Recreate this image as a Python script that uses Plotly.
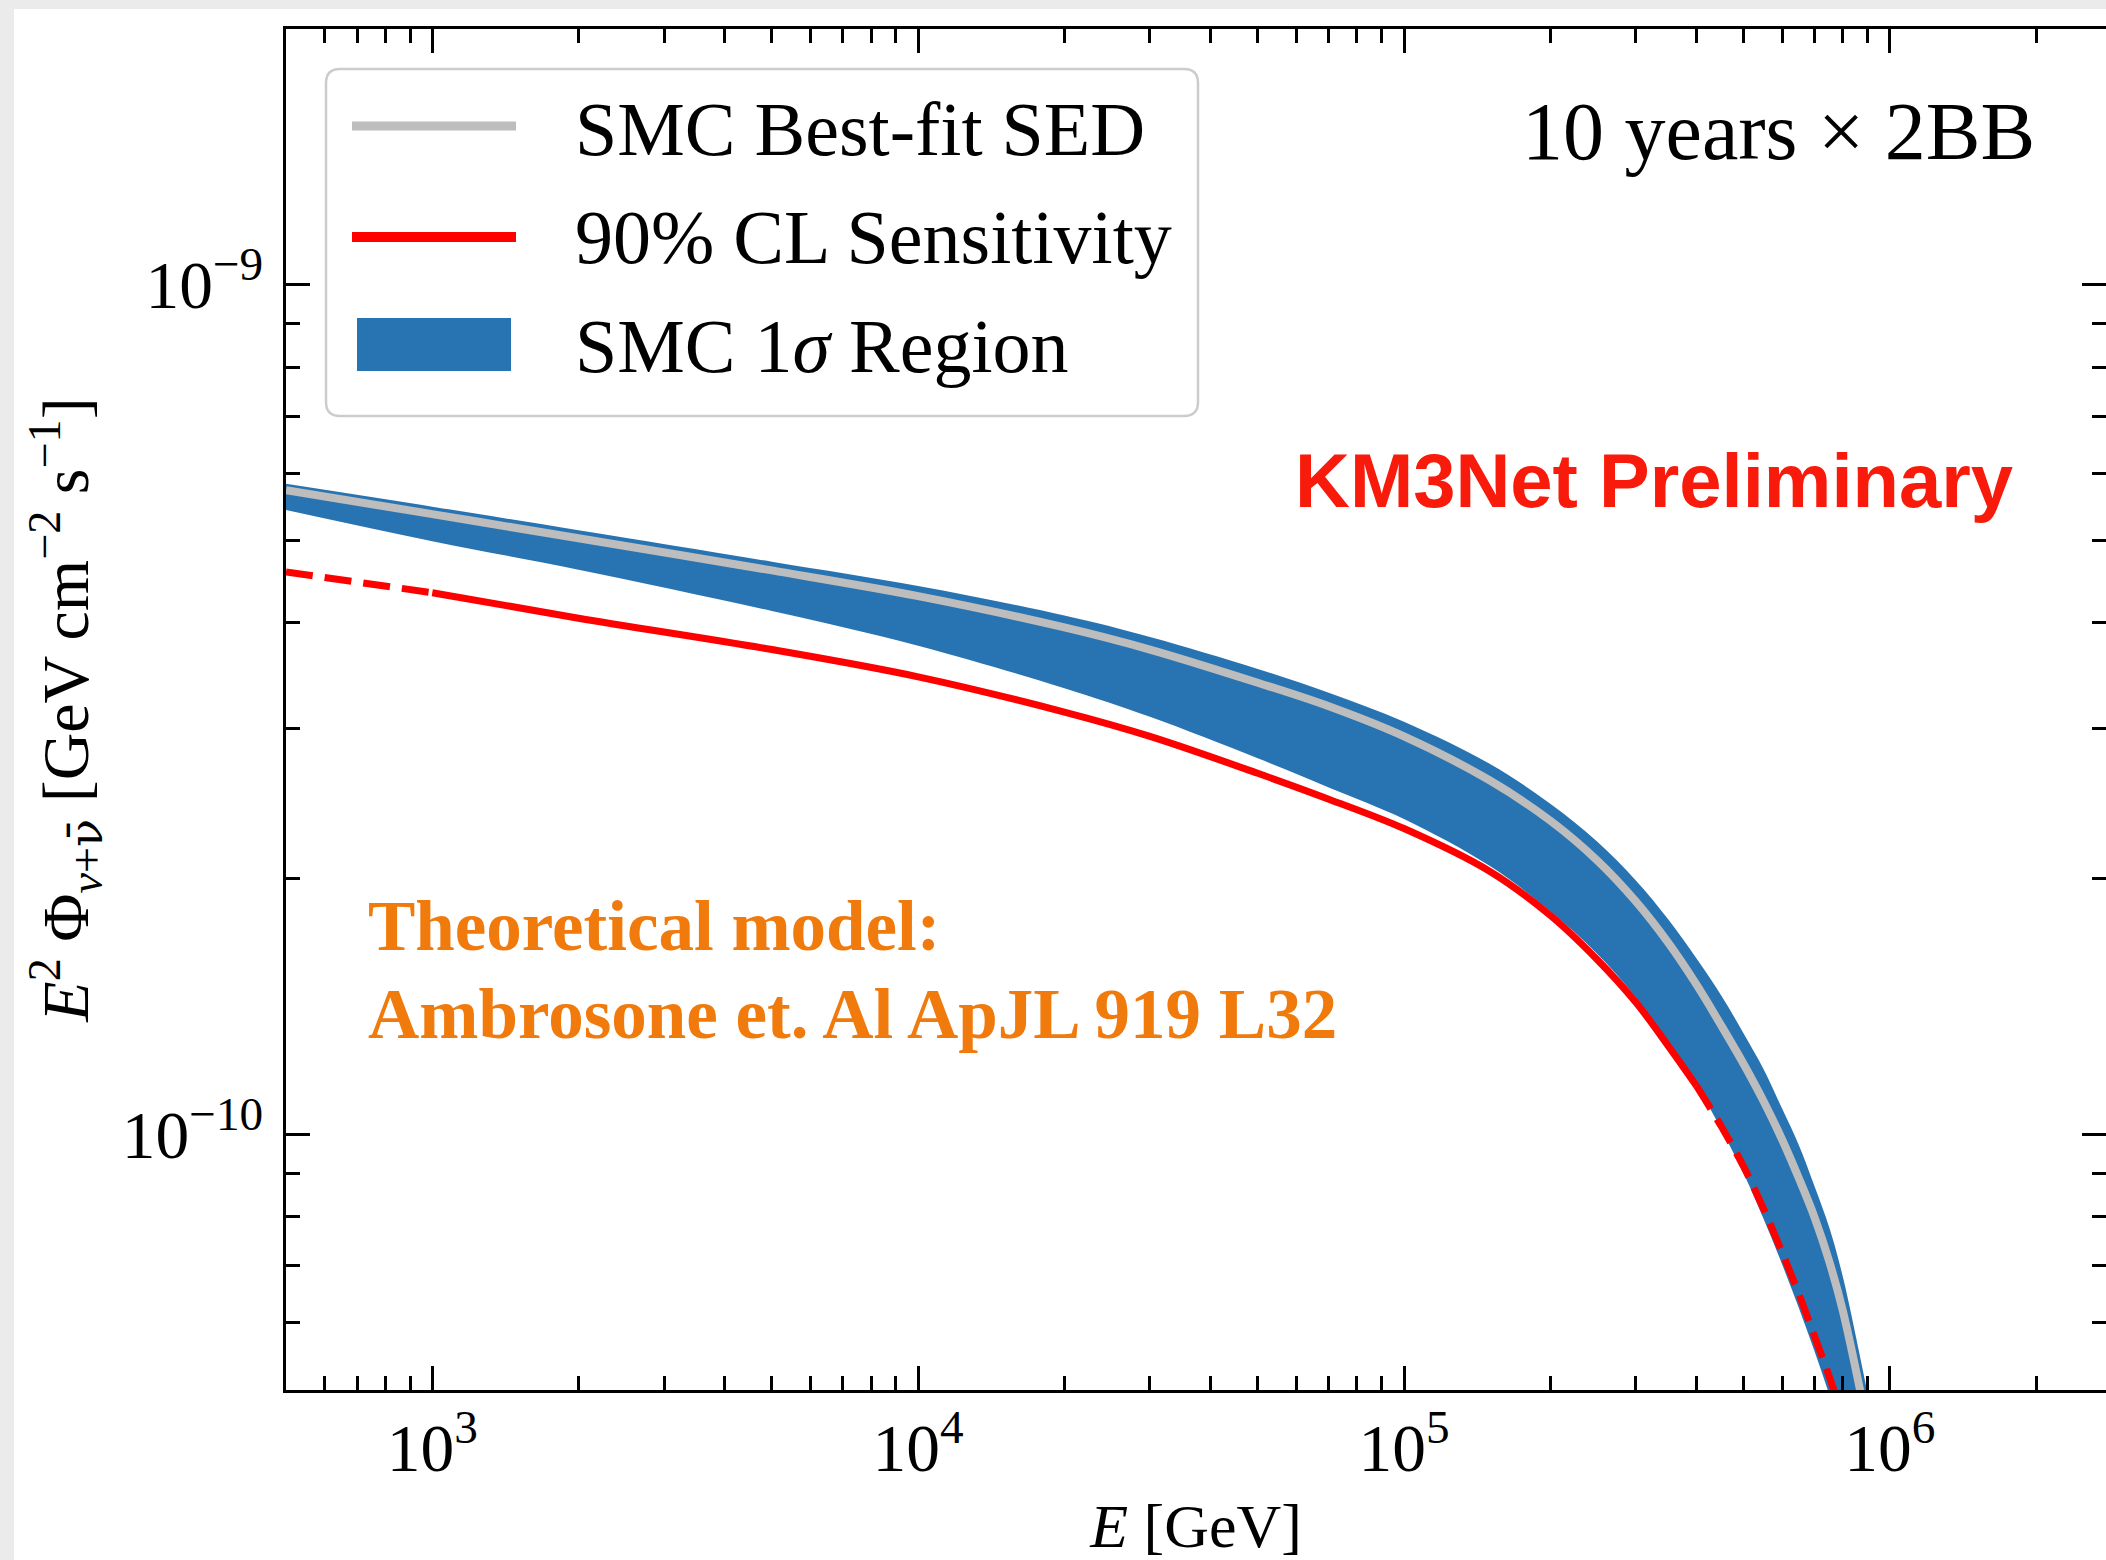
import numpy as np
import plotly.graph_objects as go

# ---------------- data ----------------
# SMC best-fit SED (grey line)
best_fit_E = [500, 1e3, 2e3, 5e3, 1e4, 2e4, 3e4, 5e4, 7e4, 1e5, 1.5e5, 2e5, 2.5e5, 3e5, 3.5e5,
              4e5, 4.5e5, 5e5, 5.5e5, 6e5, 6.5e5, 7e5, 7.5e5, 8e5, 9e5]
best_fit_F = [5.73e-10, 5.37e-10, 5.03e-10, 4.61e-10, 4.30e-10, 3.95e-10, 3.72e-10, 3.40e-10, 3.19e-10,
              2.94e-10, 2.61e-10, 2.34e-10, 2.10e-10, 1.88e-10, 1.68e-10, 1.50e-10, 1.342e-10, 1.21e-10,
              1.093e-10, 9.86e-11, 8.87e-11, 7.98e-11, 7.09e-11, 6.20e-11, 4.52e-11]

# SMC 1 sigma region, upper edge
band_hi_E = [500, 1e3, 2e3, 5e3, 1e4, 2e4, 3e4, 5e4, 7e4, 1e5, 1.5e5, 2e5, 2.5e5, 3e5, 3.5e5,
             4e5, 4.5e5, 5e5, 5.5e5, 6e5, 6.5e5, 7e5, 7.5e5, 8e5, 9e5, 9.5e5]
band_hi_F = [5.83e-10, 5.48e-10, 5.14e-10, 4.72e-10, 4.42e-10, 4.08e-10, 3.85e-10, 3.53e-10, 3.31e-10,
             3.06e-10, 2.73e-10, 2.45e-10, 2.21e-10, 1.99e-10, 1.79e-10, 1.61e-10, 1.456e-10, 1.314e-10,
             1.192e-10, 1.072e-10, 9.70e-11, 8.68e-11, 7.77e-11, 6.80e-11, 4.96e-11, 4.29e-11]

# SMC 1 sigma region, lower edge
band_lo_E = [500, 1e3, 2e3, 5e3, 1e4, 2e4, 3e4, 5e4, 7e4, 1e5, 1.5e5, 2e5, 2.5e5, 3e5, 3.5e5,
             4e5, 4.5e5, 5e5, 5.5e5, 6e5, 6.5e5, 7e5, 7.5e5, 8e5]
band_lo_F = [5.43e-10, 4.99e-10, 4.62e-10, 4.13e-10, 3.76e-10, 3.35e-10, 3.10e-10, 2.77e-10, 2.56e-10,
             2.35e-10, 2.07e-10, 1.83e-10, 1.63e-10, 1.45e-10, 1.285e-10, 1.144e-10, 1.013e-10, 8.99e-11,
             7.94e-11, 7.03e-11, 6.24e-11, 5.55e-11, 4.94e-11, 4.37e-11]

# 90% CL sensitivity (red); solid between sens_solid_lo and sens_solid_hi, dashed outside
sens_E = [500, 1e3, 2e3, 5e3, 1e4, 2e4, 3e4, 5e4, 7e4, 1e5, 1.5e5, 2e5, 2.5e5, 3e5, 3.5e5,
          4e5, 4.5e5, 5e5, 5.5e5, 6e5, 6.5e5, 7e5, 7.5e5, 8e5, 8.5e5]
sens_F = [4.59e-10, 4.34e-10, 4.05e-10, 3.72e-10, 3.455e-10, 3.14e-10, 2.94e-10, 2.66e-10, 2.48e-10,
          2.29e-10, 2.04e-10, 1.81e-10, 1.605e-10, 1.43e-10, 1.27e-10, 1.14e-10, 1.021e-10, 9.16e-11,
          8.16e-11, 7.26e-11, 6.48e-11, 5.78e-11, 5.19e-11, 4.64e-11, 4.20e-11]
sens_solid_lo, sens_solid_hi = 1e3, 4e5

x_range_E = [500, 2.785e6]
y_range_F = [5e-11, 2e-9]

legend_labels = ["SMC Best-fit SED", "90% CL Sensitivity", "SMC 1<i>σ</i> Region"]

# ---------------- styles ----------------
BLUE = "#2874b2"
GRAY = "#bdbdbd"
RED = "#ff0000"
SERIF = "Liberation Serif, Times New Roman, serif"
SANS = "Liberation Sans, Arial, sans-serif"
SPL = dict(shape="spline", smoothing=1.0)

W, H = 2106, 1560
L, R, T, B = 286, 2106, 29, 1390  # plot area in pixels
PW, PH = R - L, B - T


def px(x):
    return (x - L) / PW


def py(y):
    return (B - y) / PH


fig = go.Figure()

# 1-sigma band
fig.add_trace(go.Scatter(x=band_lo_E, y=band_lo_F, mode="lines", line=dict(width=0, **SPL),
                         showlegend=False, hoverinfo="skip", name="SMC 1σ lower"))
fig.add_trace(go.Scatter(x=band_hi_E, y=band_hi_F, mode="lines", line=dict(width=0, **SPL),
                         fill="tonexty", fillcolor=BLUE, name="SMC 1σ Region"))

# best fit
fig.add_trace(go.Scatter(x=best_fit_E, y=best_fit_F, mode="lines",
                         line=dict(color=GRAY, width=8, **SPL), name="SMC Best-fit SED"))

# sensitivity: dashed outside the solid range
lo_idx = [i for i, e in enumerate(sens_E) if e <= sens_solid_lo]
mid_idx = [i for i, e in enumerate(sens_E) if sens_solid_lo <= e <= sens_solid_hi]
hi_idx = [i for i, e in enumerate(sens_E) if e >= sens_solid_hi]
for idx, dash in [(lo_idx, "27px,12px"), (mid_idx, "solid"), (hi_idx, "27px,12px")]:
    fig.add_trace(go.Scatter(x=[sens_E[i] for i in idx], y=[sens_F[i] for i in idx], mode="lines",
                             line=dict(color=RED, width=7, dash=dash, **SPL),
                             name="90% CL Sensitivity"))

axis_common = dict(
    type="log", showgrid=False, zeroline=False,
    ticks="inside", ticklen=24, tickwidth=3, tickcolor="black",
    showline=True, linecolor="black", linewidth=3, mirror="ticks",
    dtick=1, exponentformat="power", showexponent="all",
    tickfont=dict(family=SERIF, size=54, color="black"),
    minor=dict(ticks="inside", ticklen=14, tickwidth=2.5, tickcolor="black", dtick="D1", showgrid=False),
)

nubar = "<span style=\"font-family:'DejaVu Serif'\">ν\u0304</span>"
fig.update_xaxes(**axis_common, range=[np.log10(x_range_E[0]), np.log10(x_range_E[1])],
                 ticklabelstandoff=0,
                 title=dict(text="<i>E</i> [GeV]", font=dict(family=SERIF, size=62, color="black"), standoff=40))
fig.update_yaxes(**axis_common, range=[np.log10(y_range_F[0]), np.log10(y_range_F[1])],
                 ticklabelstandoff=9,
                 title=dict(text="<i>E</i><sup>2</sup> Φ<sub><i>ν</i>+" + nubar + "</sub>"
                                 " [GeV cm<sup>−2</sup> s<sup>−1</sup>]",
                            font=dict(family=SERIF, size=66, color="black"), standoff=12))

shapes = []
# page background (white sheet over light-gray page)
shapes.append(dict(type="rect", xref="paper", yref="paper", x0=px(14), x1=px(2140), y0=py(1600), y1=py(9),
                   fillcolor="white", line=dict(width=0), layer="below"))


# legend box with rounded corners
def rounded_rect(x0, y0, x1, y1, r):
    pts = [f"M{px(x0 + r)},{py(y0)}", f"L{px(x1 - r)},{py(y0)}", f"Q{px(x1)},{py(y0)} {px(x1)},{py(y0 + r)}",
           f"L{px(x1)},{py(y1 - r)}", f"Q{px(x1)},{py(y1)} {px(x1 - r)},{py(y1)}",
           f"L{px(x0 + r)},{py(y1)}", f"Q{px(x0)},{py(y1)} {px(x0)},{py(y1 - r)}",
           f"L{px(x0)},{py(y0 + r)}", f"Q{px(x0)},{py(y0)} {px(x0 + r)},{py(y0)}", "Z"]
    return " ".join(pts)


shapes.append(dict(type="path", xref="paper", yref="paper", path=rounded_rect(326, 69, 1198, 416, 14),
                   fillcolor="white", line=dict(color="#cccccc", width=2.5)))
shapes.append(dict(type="line", xref="paper", yref="paper", x0=px(352), x1=px(516), y0=py(126), y1=py(126),
                   line=dict(color=GRAY, width=9)))
shapes.append(dict(type="line", xref="paper", yref="paper", x0=px(352), x1=px(516), y0=py(237), y1=py(237),
                   line=dict(color=RED, width=10)))
shapes.append(dict(type="rect", xref="paper", yref="paper", x0=px(357), x1=px(511), y0=py(371), y1=py(318),
                   fillcolor=BLUE, line=dict(width=0)))

annotations = []
for lab, yc in zip(legend_labels, [129, 237, 346]):
    annotations.append(dict(text=lab, xref="paper", yref="paper", x=px(573), y=py(yc), xanchor="left",
                            yanchor="middle", showarrow=False, font=dict(family=SERIF, size=76, color="black")))

annotations.append(dict(text="10 years × 2BB", xref="paper", yref="paper", x=px(2037), y=py(131),
                        xanchor="right", yanchor="middle", showarrow=False,
                        font=dict(family=SERIF, size=82, color="black")))
annotations.append(dict(text="<b>KM3Net Preliminary</b>", xref="paper", yref="paper", x=px(2015), y=py(481),
                        xanchor="right", yanchor="middle", showarrow=False,
                        font=dict(family=SANS, size=76, color="#f81a0a")))
annotations.append(dict(text="<b>Theoretical model:</b>", xref="paper", yref="paper", x=px(366), y=py(926),
                        xanchor="left", yanchor="middle", showarrow=False,
                        font=dict(family=SERIF, size=71, color="#f07a0c")))
annotations.append(dict(text="<b>Ambrosone et. Al ApJL 919 L32</b>", xref="paper", yref="paper", x=px(366),
                        y=py(1014), xanchor="left", yanchor="middle", showarrow=False,
                        font=dict(family=SERIF, size=71, color="#f07a0c")))

fig.update_layout(
    width=W, height=H,
    margin=dict(l=L, r=W - R, t=T, b=H - B, autoexpand=False),
    paper_bgcolor="#ebebeb", plot_bgcolor="white",
    showlegend=False, shapes=shapes, annotations=annotations,
)

fig.write_html("out.html", config={"displayModeBar": False})
